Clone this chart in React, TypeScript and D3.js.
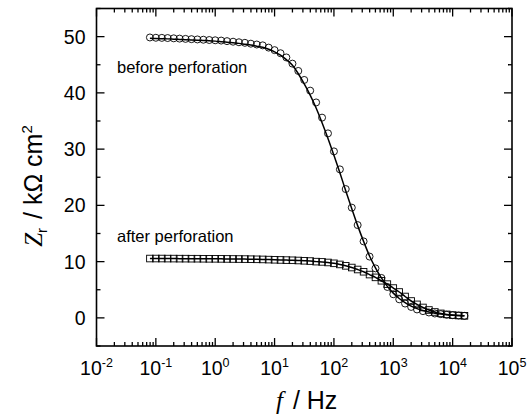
import React, { useEffect, useRef } from 'react';
import * as d3 from 'd3';

// frequencies in Hz, 10 per decade
const freq = [
  0.0794, 0.1, 0.126, 0.158, 0.2, 0.251, 0.316, 0.398, 0.501, 0.631,
  0.794, 1, 1.26, 1.58, 2, 2.51, 3.16, 3.98, 5.01, 6.31,
  7.94, 10, 12.6, 15.8, 20, 25.1, 31.6, 39.8, 50.1, 63.1,
  79.4, 100, 126, 158, 200, 251, 316, 398, 501, 631,
  794, 1000, 1260, 1580, 2000, 2510, 3160, 3980, 5010, 6310,
  7940, 10000, 12600, 15800,
];

// Zr in kOhm cm2, before perforation (circles)
const beforeZ = [
  49.85, 49.8, 49.78, 49.75, 49.7, 49.65, 49.6, 49.55, 49.5, 49.45,
  49.4, 49.35, 49.3, 49.2, 49.1, 49.0, 48.9, 48.75, 48.6, 48.45,
  48.05, 47.6, 47.05, 46.3, 45.2, 43.9, 42.3, 40.4, 38.3, 35.6,
  32.8, 29.6, 26.4, 22.9, 19.6, 16.5, 13.6, 10.9, 8.8, 7.1,
  5.5, 4.2, 3.3, 2.55, 1.95, 1.5, 1.2, 0.96, 0.78, 0.66,
  0.55, 0.48, 0.42, 0.36,
];

// fitted curve, before perforation
const beforeFit = [
  49.7, 49.65, 49.63, 49.6, 49.55, 49.5, 49.45, 49.4, 49.35, 49.3,
  49.25, 49.2, 49.1, 49.0, 48.9, 48.8, 48.65, 48.5, 48.3, 48.1,
  47.75, 47.3, 46.7, 45.9, 44.9, 43.4, 41.6, 39.6, 37.3, 34.7,
  31.9, 28.9, 25.8, 22.6, 19.4, 16.4, 13.6, 11.0, 8.9, 7.1,
  5.6, 4.4, 3.45, 2.7, 2.1, 1.65, 1.3, 1.03, 0.83, 0.68,
  0.57, 0.48, 0.42, 0.37,
];

// Zr in kOhm cm2, after perforation (squares)
const afterZ = [
  10.55, 10.55, 10.55, 10.54, 10.54, 10.53, 10.53, 10.52, 10.52, 10.51,
  10.5, 10.5, 10.49, 10.48, 10.47, 10.46, 10.45, 10.43, 10.41, 10.39,
  10.36, 10.33, 10.3, 10.27, 10.24, 10.2, 10.15, 10.1, 10.0, 9.95,
  9.85, 9.7, 9.5, 9.25, 8.95, 8.6, 8.2, 7.7, 7.2, 6.6,
  6.0, 5.3, 4.6, 3.8, 3.0, 2.4, 1.85, 1.4, 1.05, 0.8,
  0.62, 0.5, 0.42, 0.36,
];

const xExponents = [-2, -1, 0, 1, 2, 3, 4, 5];
const yTicks = [0, 10, 20, 30, 40, 50];
const yMinor = [-5, 5, 15, 25, 35, 45, 55];

const sans = 'Liberation Sans, Arial, sans-serif';
const serif = 'Liberation Serif, Times New Roman, serif';

export default function App() {
  const svgRef = useRef<SVGSVGElement>(null);

  useEffect(() => {
    if (!svgRef.current) return;
    const svg = d3.select(svgRef.current);
    svg.selectAll('*').remove();

    const left = 96.5, right = 512, top = 8.5, bottom = 346;

    const x = d3.scaleLog().domain([1e-2, 1e5]).range([left, right]);
    const y = d3.scaleLinear().domain([-5, 55]).range([bottom, top]);

    // minor log ticks 2..9 per decade
    const xMinor: number[] = [];
    for (let e = -2; e < 5; e++) {
      for (let m = 2; m <= 9; m++) xMinor.push(m * Math.pow(10, e));
    }

    const g = svg.append('g');

    // frame
    g.append('rect')
      .attr('x', left).attr('y', top)
      .attr('width', right - left).attr('height', bottom - top)
      .attr('fill', 'none').attr('stroke', '#000').attr('stroke-width', 1.6);

    const tick = (x1: number, y1: number, x2: number, y2: number) =>
      g.append('line')
        .attr('x1', x1).attr('y1', y1).attr('x2', x2).attr('y2', y2)
        .attr('stroke', '#000').attr('stroke-width', 1.3);

    // x ticks, bottom and top, inward
    xExponents.forEach(e => {
      const px = x(Math.pow(10, e));
      tick(px, bottom, px, bottom - 8);
      tick(px, top, px, top + 8);
    });
    xMinor.forEach(v => {
      const px = x(v);
      tick(px, bottom, px, bottom - 4);
      tick(px, top, px, top + 4);
    });

    // y ticks, left and right, inward
    yTicks.forEach(v => {
      tick(left, y(v), left + 8, y(v));
      tick(right, y(v), right - 8, y(v));
    });
    yMinor.forEach(v => {
      tick(left, y(v), left + 4, y(v));
      tick(right, y(v), right - 4, y(v));
    });

    // y tick labels
    g.selectAll('.ylab')
      .data(yTicks)
      .join('text')
      .attr('class', 'ylab')
      .attr('x', left - 11)
      .attr('y', d => y(d) + 7)
      .attr('text-anchor', 'end')
      .attr('font-family', sans)
      .attr('font-size', 19.5)
      .text(d => d);

    // x tick labels with exponent
    const xl = g.selectAll('.xlab')
      .data(xExponents)
      .join('text')
      .attr('class', 'xlab')
      .attr('x', d => x(Math.pow(10, d)))
      .attr('y', 375)
      .attr('text-anchor', 'middle')
      .attr('font-family', sans)
      .attr('font-size', 19.5);
    xl.append('tspan').text('10');
    xl.append('tspan').attr('dy', -8).attr('font-size', 12.5).text(d => String(d));

    // lines
    const line = d3.line<number>()
      .x((_, i) => x(freq[i]))
      .y(d => y(d))
      .curve(d3.curveMonotoneX);

    g.append('path').attr('d', line(beforeFit))
      .attr('fill', 'none').attr('stroke', '#000').attr('stroke-width', 1.5);
    g.append('path').attr('d', line(afterZ))
      .attr('fill', 'none').attr('stroke', '#000').attr('stroke-width', 1.5);

    // markers
    g.selectAll('.circ')
      .data(beforeZ)
      .join('circle')
      .attr('class', 'circ')
      .attr('cx', (_, i) => x(freq[i]))
      .attr('cy', d => y(d))
      .attr('r', 3.5)
      .attr('fill', 'none')
      .attr('stroke', '#000')
      .attr('stroke-width', 0.9);

    g.selectAll('.sq')
      .data(afterZ)
      .join('rect')
      .attr('class', 'sq')
      .attr('x', (_, i) => x(freq[i]) - 3.3)
      .attr('y', d => y(d) - 3.3)
      .attr('width', 6.6)
      .attr('height', 6.6)
      .attr('fill', 'none')
      .attr('stroke', '#000')
      .attr('stroke-width', 0.9);

    // annotations
    g.append('text').attr('x', 117).attr('y', 73)
      .attr('font-family', sans).attr('font-size', 16.5)
      .text('before perforation');
    g.append('text').attr('x', 117).attr('y', 241.5)
      .attr('font-family', sans).attr('font-size', 16.5)
      .text('after perforation');

    // x title
    const xt = g.append('text')
      .attr('x', 276).attr('y', 409)
      .attr('font-family', sans)
      .attr('font-size', 25);
    xt.append('tspan').attr('font-family', serif).attr('font-style', 'italic').text('f');
    xt.append('tspan').attr('dx', 3).text(' / Hz');

    // y title
    const yt = g.append('text')
      .attr('transform', 'translate(42,186) rotate(-90)')
      .attr('text-anchor', 'middle')
      .attr('font-family', sans)
      .attr('font-size', 25);
    yt.append('tspan').attr('font-family', serif).attr('font-style', 'italic').text('Z');
    yt.append('tspan').attr('font-size', 15).attr('dy', 5).text('r');
    yt.append('tspan').attr('dy', -5).attr('dx', 2).text(' / kΩ cm');
    yt.append('tspan').attr('font-size', 15).attr('dy', -10).text('2');
  }, []);

  return (
    <svg
      ref={svgRef}
      width={527}
      height={419}
      style={{ position: 'absolute', left: 0, top: 0, background: '#fff' }}
    />
  );
}
